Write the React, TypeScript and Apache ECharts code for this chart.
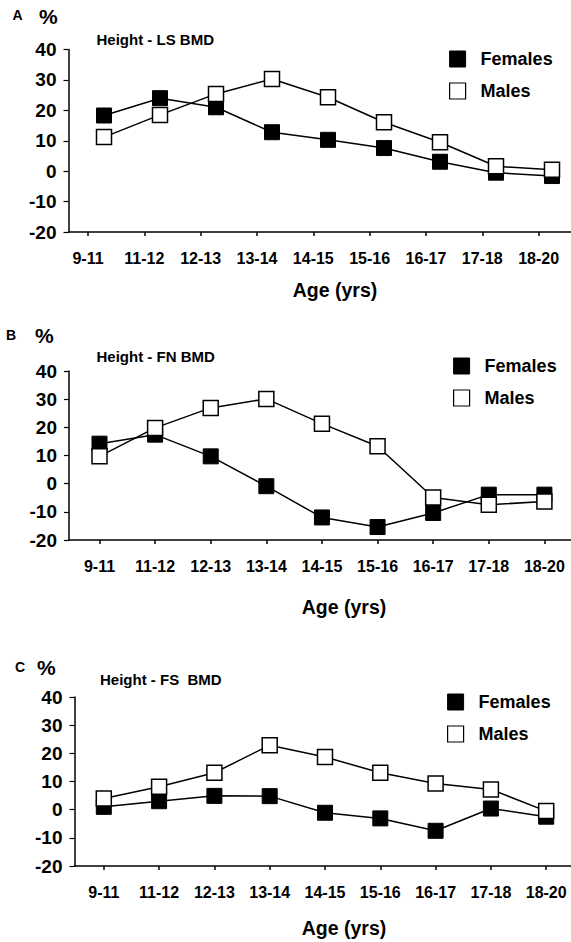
import React, { useEffect, useRef } from "react";
import * as echarts from "echarts";

const categories = ["9-11", "11-12", "12-13", "13-14", "14-15", "15-16", "16-17", "17-18", "18-20"];
const yTicks = { min: -20, max: 40, step: 10 };

const lsFemales = [18.3, 24, 21, 12.8, 10.3, 7.6, 3.1, -0.5, -1.6];
const lsMales = [11.2, 18.5, 25.4, 30.3, 24.3, 16.1, 9.5, 1.6, 0.5];
const fnFemales = [14.2, 17.4, 9.7, -0.9, -12, -15.4, -10.4, -3.9, -3.9];
const fnMales = [9.7, 19.8, 26.9, 30.1, 21.3, 13.3, -4.9, -7.5, -6.3];
const fsFemales = [1.0, 3.0, 4.9, 4.8, -1.1, -3.1, -7.5, 0.4, -2.5];
const fsMales = [4.0, 8.1, 13.1, 22.9, 18.7, 13.1, 9.3, 7.2, -0.5];

const seriesNames = ["Females", "Males"];
const panelLetters = ["A", "B", "C"];
const panelTitles = ["Height - LS BMD", "Height - FN BMD", "Height - FS  BMD"];
const xAxisTitle = "Age (yrs)";

const W = 571;
const H = 942;
const FONT = "Liberation Sans, Arial, Helvetica, sans-serif";

// layout (pixels)
const layouts = [
  { top: 49.5, bottom: 232, axisX: 68.5, tickL: 88, tickR: 538.6, dataL: 104, dataR: 552,
    letter: [12.5, 15], pct: [39, 16], sub: [96.5, 39.5], age: [335, 290], legend: [449, 50] },
  { top: 371, bottom: 540, axisX: 69, tickL: 99.5, tickR: 544.4, dataL: 99.5, dataR: 544.4,
    letter: [6, 335], pct: [35, 335], sub: [96.5, 356.5], age: [344, 607], legend: [453, 357] },
  { top: 697, bottom: 866, axisX: 74.5, tickL: 103.8, tickR: 546.2, dataL: 103.8, dataR: 546.2,
    letter: [15, 667], pct: [37, 667], sub: [100, 679], age: [344, 928], legend: [447, 693] },
];

export default function App() {
  const ref = useRef<HTMLDivElement>(null);
  useEffect(() => {
    if (!ref.current) return;
    const chart = echarts.init(ref.current, null, { renderer: "svg" });
    const data = [
      [lsFemales, lsMales],
      [fnFemales, fnMales],
      [fsFemales, fsMales],
    ];
    const grid: any[] = [];
    const xAxis: any[] = [];
    const yAxis: any[] = [];
    const series: any[] = [];
    const legend: any[] = [];
    const graphic: any[] = [];
    const bold = { fontFamily: FONT, fontWeight: "bold", color: "#000" };

    layouts.forEach((L, p) => {
      const h = L.bottom - L.top;
      const base = grid.length;
      grid.push({ left: L.dataL, width: L.dataR - L.dataL, top: L.top, height: h });
      grid.push({ left: L.tickL, width: L.tickR - L.tickL, top: L.top, height: h });
      grid.push({ left: L.axisX, width: W - L.axisX, top: L.top, height: h });

      xAxis.push({ gridIndex: base, type: "category", data: categories, boundaryGap: false, show: false });
      xAxis.push({
        gridIndex: base + 1, type: "category", data: categories, boundaryGap: false,
        axisLine: { show: false, onZero: false },
        axisTick: { show: true, length: 4, lineStyle: { color: "#000", width: 1.5 } },
        axisLabel: { ...bold, fontSize: 16, margin: 18, interval: 0 },
      });
      xAxis.push({
        gridIndex: base + 2, type: "value", min: 0, max: 1,
        axisLine: { show: true, onZero: false, lineStyle: { color: "#000", width: 1.5 } },
        axisTick: { show: false }, axisLabel: { show: false }, splitLine: { show: false },
      });

      yAxis.push({
        gridIndex: base, type: "value", min: yTicks.min, max: yTicks.max, interval: yTicks.step,
        offset: L.dataL - L.axisX,
        axisLine: { show: true, onZero: false, lineStyle: { color: "#000", width: 1.5 } },
        axisTick: { show: true, length: 5, lineStyle: { color: "#000", width: 1.2 } },
        axisLabel: { ...bold, fontSize: 19, margin: 12 },
        splitLine: { show: false },
      });
      yAxis.push({ gridIndex: base + 1, type: "value", min: yTicks.min, max: yTicks.max, show: false });
      yAxis.push({ gridIndex: base + 2, type: "value", min: yTicks.min, max: yTicks.max, show: false });

      const [fem, mal] = data[p];
      series.push({
        type: "line", name: seriesNames[0], xAxisIndex: base, yAxisIndex: base, data: fem,
        symbol: "rect", symbolSize: 15, showSymbol: true,
        lineStyle: { color: "#000", width: 1.5 },
        itemStyle: { color: "#000", borderColor: "#000", borderWidth: 1 },
        emphasis: { disabled: true }, z: 2,
      });
      series.push({
        type: "line", name: seriesNames[1], xAxisIndex: base, yAxisIndex: base, data: mal,
        symbol: "rect", symbolSize: 15, showSymbol: true,
        lineStyle: { color: "#000", width: 1.5 },
        itemStyle: { color: "#fff", borderColor: "#000", borderWidth: 1.5 },
        emphasis: { disabled: true }, z: 3,
      });

      legend.push({
        left: L.legend[0], top: L.legend[1], orient: "vertical", icon: "rect", padding: 0,
        itemWidth: 16, itemHeight: 16, itemGap: 14, selectedMode: false,
        textStyle: { ...bold, fontSize: 18, padding: [0, 0, 0, 10] },
        data: [
          { name: seriesNames[0], itemStyle: { color: "#000", borderColor: "#000", borderWidth: 1 } },
          { name: seriesNames[1], itemStyle: { color: "#fff", borderColor: "#000", borderWidth: 1.2 } },
        ],
      });

      const txt = (x: number, y: number, text: string, size: number, align = "left") => ({
        type: "text", x, y,
        style: { text, fontFamily: FONT, fontWeight: "bold", fontSize: size, fill: "#000", align, verticalAlign: "middle" },
      });
      graphic.push(
        txt(L.letter[0], L.letter[1], panelLetters[p], 14),
        txt(L.pct[0], L.pct[1], "%", 21),
        txt(L.sub[0], L.sub[1], panelTitles[p], 15),
        txt(L.age[0], L.age[1], xAxisTitle, 19.5, "center"),
      );
    });

    chart.setOption({
      animation: false,
      backgroundColor: "#fff",
      grid, xAxis, yAxis, series, legend, graphic,
    });
    return () => chart.dispose();
  }, []);
  return (
    <div
      ref={ref}
      style={{ position: "absolute", left: 0, top: 0, width: W, height: H, background: "#fff" }}
    />
  );
}
